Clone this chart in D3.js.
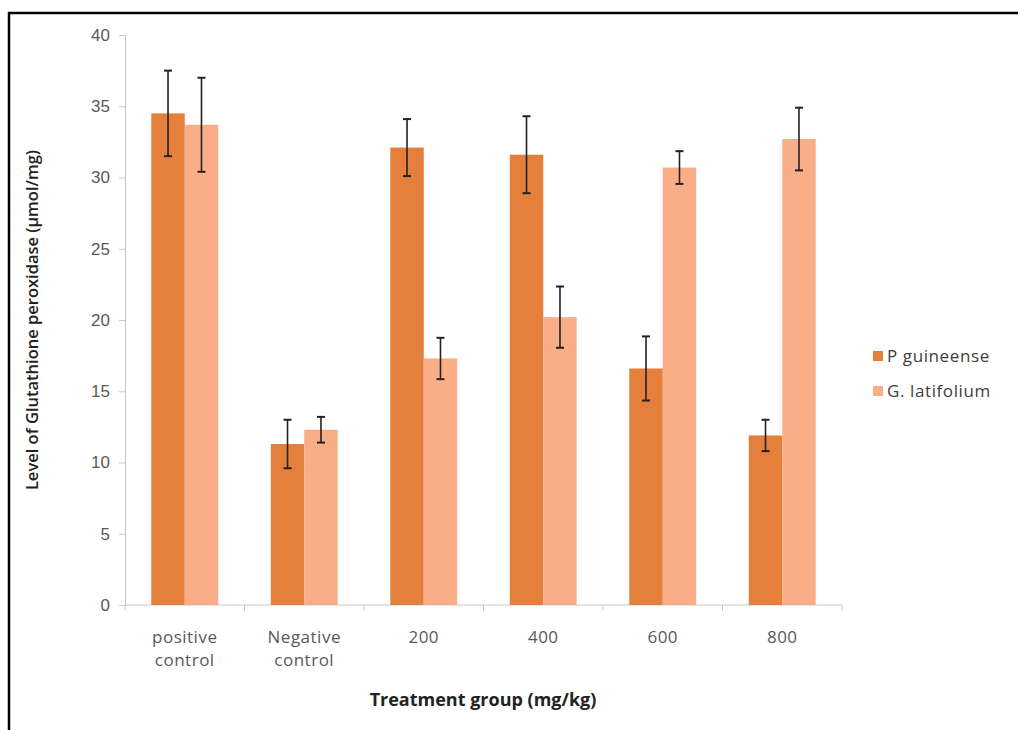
<!DOCTYPE html>
<html>
<head>
<meta charset="utf-8">
<script src="https://cdn.jsdelivr.net/npm/d3@7"></script>
<style>
  body { margin: 0; background: #fff; }
  #chart { width: 1018px; height: 730px; }
</style>
</head>
<body>
<div id="chart"></div>
<script>
// Data
const categories = ['positive control', 'Negative control', '200', '400', '600', '800'];
const seriesNames = ['P guineense', 'G. latifolium'];
const pGuineense = [34.5, 11.3, 32.1, 31.6, 16.6, 11.9];
const pGuineenseErr = [3.0, 1.7, 2.0, 2.7, 2.25, 1.1];
const gLatifolium = [33.7, 12.3, 17.3, 20.2, 30.7, 32.7];
const gLatifoliumErr = [3.3, 0.9, 1.45, 2.15, 1.15, 2.2];
const yTicks = [0, 5, 10, 15, 20, 25, 30, 35, 40];
const colors = ['#e47f3c', '#f9ae88'];

const width = 1018, height = 730;
const margin = { top: 35, right: 176, bottom: 125, left: 125 };
const graphWidth = width - margin.left - margin.right;
const graphHeight = height - margin.top - margin.bottom;

const svg = d3.select('#chart').append('svg')
  .attr('width', width)
  .attr('height', height)
  .style('font-family', 'Open Sans, sans-serif');

// Frame (only top and left edges are visible in the crop)
svg.append('rect')
  .attr('x', 9).attr('y', 13)
  .attr('width', width + 20).attr('height', height + 20)
  .attr('fill', 'none')
  .attr('stroke', '#000')
  .attr('stroke-width', 2.5);

const g = svg.append('g').attr('transform', `translate(${margin.left},${margin.top})`);

const x0 = d3.scaleBand().domain(categories).range([0, graphWidth]).paddingInner(0.44).paddingOuter(0.22);
const x1 = d3.scaleBand().domain(seriesNames).range([0, x0.bandwidth()]);
const y = d3.scaleLinear().domain([0, 40]).range([graphHeight, 0]);

// Y axis
const yAxis = g.append('g')
  .call(d3.axisLeft(y).tickValues(yTicks).tickSize(6).tickPadding(9));
yAxis.select('.domain').attr('stroke', '#c8c8c8');
yAxis.selectAll('.tick line').attr('stroke', '#c8c8c8');
yAxis.selectAll('.tick text').attr('fill', '#595959').style('font-size', '17px');

// X axis with ticks between categories
const step = graphWidth / categories.length;
const xAxis = g.append('g').attr('transform', `translate(0,${graphHeight})`);
xAxis.append('line')
  .attr('x1', 0).attr('x2', graphWidth)
  .attr('stroke', '#c8c8c8');
xAxis.selectAll('.sep')
  .data(d3.range(categories.length + 1))
  .enter().append('line')
  .attr('x1', d => d * step).attr('x2', d => d * step)
  .attr('y1', 0).attr('y2', 6)
  .attr('stroke', '#c8c8c8');
xAxis.selectAll('.lab')
  .data(categories)
  .enter().append('text')
  .attr('x', d => x0(d) + x0.bandwidth() / 2)
  .attr('y', 38)
  .attr('text-anchor', 'middle')
  .attr('fill', '#595959')
  .style('font-size', '17px')
  .style('letter-spacing', '0.5px')
  .each(function (d) {
    const words = d.split(' ');
    const t = d3.select(this);
    words.forEach((w, i) => {
      t.append('tspan')
        .attr('x', x0(d) + x0.bandwidth() / 2)
        .attr('dy', i === 0 ? 0 : 23)
        .text(w);
    });
  });

// Bars
const series = [
  { name: seriesNames[0], values: pGuineense, err: pGuineenseErr, color: colors[0] },
  { name: seriesNames[1], values: gLatifolium, err: gLatifoliumErr, color: colors[1] }
];

series.forEach(s => {
  const rows = categories.map((c, i) => ({ c, v: s.values[i], e: s.err[i] }));
  g.selectAll(null)
    .data(rows)
    .enter().append('rect')
    .attr('x', d => x0(d.c) + x1(s.name))
    .attr('y', d => y(d.v))
    .attr('width', x1.bandwidth())
    .attr('height', d => graphHeight - y(d.v))
    .attr('fill', s.color);

  // Error bars
  const eb = g.selectAll(null)
    .data(rows)
    .enter().append('g')
    .attr('transform', d => `translate(${x0(d.c) + x1(s.name) + x1.bandwidth() / 2},0)`);
  eb.append('line')
    .attr('y1', d => y(d.v + d.e)).attr('y2', d => y(d.v - d.e))
    .attr('stroke', '#222').attr('stroke-width', 1.6);
  eb.append('line')
    .attr('x1', -4).attr('x2', 4)
    .attr('y1', d => y(d.v + d.e)).attr('y2', d => y(d.v + d.e))
    .attr('stroke', '#222').attr('stroke-width', 2);
  eb.append('line')
    .attr('x1', -4).attr('x2', 4)
    .attr('y1', d => y(d.v - d.e)).attr('y2', d => y(d.v - d.e))
    .attr('stroke', '#222').attr('stroke-width', 2);
});

// Legend
const legend = svg.append('g').attr('transform', 'translate(873,351)');
series.forEach((s, i) => {
  const row = legend.append('g').attr('transform', `translate(0,${i * 35})`);
  row.append('rect').attr('width', 10).attr('height', 10).attr('fill', s.color);
  row.append('text')
    .attr('x', 14).attr('y', 11)
    .attr('fill', '#404040')
    .style('font-size', '17px')
    .style('letter-spacing', '0.6px')
    .text(s.name);
});

// Axis titles
svg.append('text')
  .attr('transform', `translate(38,${margin.top + graphHeight / 2}) rotate(-90)`)
  .attr('text-anchor', 'middle')
  .attr('fill', '#222')
  .style('font-size', '16.5px')
  .style('font-weight', '600')
  .text('Level of Glutathione peroxidase (µmol/mg)');

svg.append('text')
  .attr('x', 483).attr('y', 706)
  .attr('text-anchor', 'middle')
  .attr('fill', '#222')
  .style('font-size', '18px')
  .style('font-weight', 'bold')
  .text('Treatment group (mg/kg)');
</script>
</body>
</html>
